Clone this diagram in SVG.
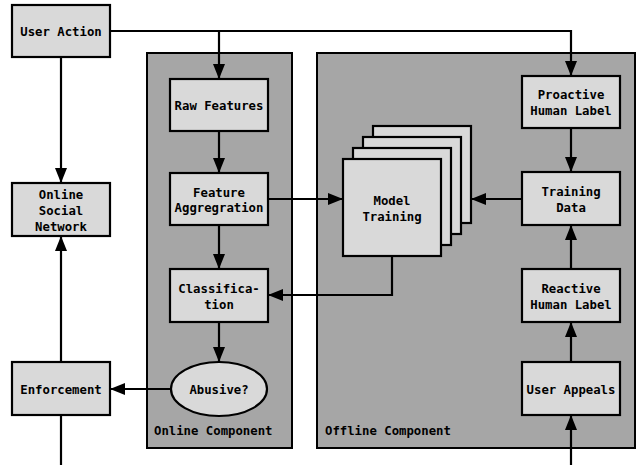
<svg xmlns="http://www.w3.org/2000/svg" width="639" height="465" viewBox="0 0 639 465">
  <defs>
    <marker id="arrow" markerUnits="userSpaceOnUse" markerWidth="16" markerHeight="12" refX="15" refY="6" orient="auto">
      <path d="M0,0 L15,6 L0,12 z" fill="#000"/>
    </marker>
    <style>
      .panel { fill: #a6a6a6; stroke: #000; stroke-width: 2; }
      .node { fill: #d9d9d9; stroke: #000; stroke-width: 2.2; }
      .edge { fill: none; stroke: #000; stroke-width: 2.2; }
      .arr { marker-end: url(#arrow); }
      text { font-family: "DejaVu Sans Mono", "Liberation Mono", monospace; font-weight: bold; font-size: 12.3px; fill: #000; text-anchor: middle; }
      .lbl { text-anchor: start; }
    </style>
  </defs>

  <rect width="639" height="465" fill="#fff"/>

  <!-- component panels -->
  <g id="online-component">
    <rect class="panel" x="147" y="53" width="145" height="395"/>
    <text class="lbl" x="154" y="434.5">Online Component</text>
  </g>
  <g id="offline-component">
    <rect class="panel" x="317" y="53" width="318" height="395"/>
    <text class="lbl" x="325" y="434.5">Offline Component</text>
  </g>

  <!-- connectors -->
  <g id="connectors">
    <path class="edge" d="M110,31 H571 V76" marker-end="url(#arrow)"/>
    <path class="edge" d="M219,31 V79" marker-end="url(#arrow)"/>
    <path class="edge" d="M61,57 V183" marker-end="url(#arrow)"/>
    <path class="edge" d="M61,362 V236" marker-end="url(#arrow)"/>
    <path class="edge" d="M61,415 V465"/>
    <path class="edge" d="M219,131 V173" marker-end="url(#arrow)"/>
    <path class="edge" d="M219,225 V269" marker-end="url(#arrow)"/>
    <path class="edge" d="M219,322 V362" marker-end="url(#arrow)"/>
    <path class="edge" d="M171,389 H110" marker-end="url(#arrow)"/>
    <path class="edge" d="M268,199 H343" marker-end="url(#arrow)"/>
    <path class="edge" d="M522,199 H471" marker-end="url(#arrow)"/>
    <path class="edge" d="M392,256 V295 H268" marker-end="url(#arrow)"/>
    <path class="edge" d="M571,128 V172" marker-end="url(#arrow)"/>
    <path class="edge" d="M571,269 V225" marker-end="url(#arrow)"/>
    <path class="edge" d="M571,362 V322" marker-end="url(#arrow)"/>
    <path class="edge" d="M571,465 V415" marker-end="url(#arrow)"/>
  </g>

  <!-- nodes -->
  <g id="user-action">
    <rect class="node" x="12" y="5" width="98" height="52"/>
    <text x="61" y="35.5">User Action</text>
  </g>
  <g id="online-social-network">
    <rect class="node" x="12" y="183" width="98" height="53"/>
    <text x="61" y="198.5">Online</text>
    <text x="61" y="214.5">Social</text>
    <text x="61" y="230.5">Network</text>
  </g>
  <g id="enforcement">
    <rect class="node" x="12" y="362" width="98" height="53"/>
    <text x="61" y="393.5">Enforcement</text>
  </g>
  <g id="raw-features">
    <rect class="node" x="170" y="79" width="98" height="52"/>
    <text x="219" y="109.5">Raw Features</text>
  </g>
  <g id="feature-aggregration">
    <rect class="node" x="170" y="173" width="98" height="52"/>
    <text x="219" y="196.5">Feature</text>
    <text x="219" y="212">Aggregration</text>
  </g>
  <g id="classification">
    <rect class="node" x="170" y="269" width="98" height="53"/>
    <text x="219" y="292.5">Classifica-</text>
    <text x="219" y="308.5">tion</text>
  </g>
  <g id="abusive">
    <ellipse class="node" cx="219" cy="389" rx="48" ry="27"/>
    <text x="219" y="394">Abusive?</text>
  </g>
  <g id="model-training">
    <rect class="node" x="373" y="126" width="98" height="97"/>
    <rect class="node" x="363" y="137" width="98" height="97"/>
    <rect class="node" x="353" y="148" width="98" height="97"/>
    <rect class="node" x="343" y="159" width="98" height="97"/>
    <text x="392" y="204.5">Model</text>
    <text x="392" y="221">Training</text>
  </g>
  <g id="proactive-human-label">
    <rect class="node" x="522" y="76" width="98" height="52"/>
    <text x="571" y="98.5">Proactive</text>
    <text x="571" y="114.5">Human Label</text>
  </g>
  <g id="training-data">
    <rect class="node" x="522" y="172" width="98" height="53"/>
    <text x="571" y="195.5">Training</text>
    <text x="571" y="211.5">Data</text>
  </g>
  <g id="reactive-human-label">
    <rect class="node" x="522" y="269" width="98" height="53"/>
    <text x="571" y="292.5">Reactive</text>
    <text x="571" y="308.5">Human Label</text>
  </g>
  <g id="user-appeals">
    <rect class="node" x="522" y="362" width="98" height="53"/>
    <text x="571" y="393.5">User Appeals</text>
  </g>
</svg>
